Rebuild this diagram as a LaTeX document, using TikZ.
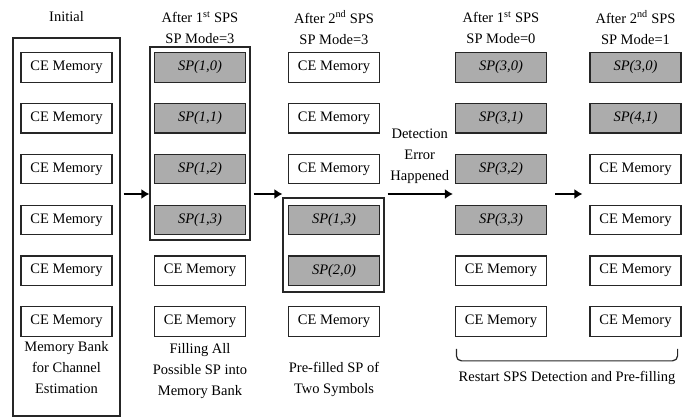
\documentclass[tikz,border=0pt]{standalone}
\usepackage{fontspec}
\setmainfont{Liberation Serif}
\usetikzlibrary{arrows.meta}

\begin{document}
\begin{tikzpicture}[x=1pt,y=-1pt,
    memnode/.style={rectangle, draw=black!85, line width=1.2pt, minimum width=91pt, minimum height=29.5pt, inner sep=0pt, font=\fontsize{14.5}{17}\selectfont},
    spnode/.style={memnode, fill=gray!65, font=\fontsize{14.5}{17}\selectfont\itshape},
    groupnode/.style={rectangle, draw=black!85, line width=1.2pt, inner sep=0pt},
    textnode/.style={align=center, font=\fontsize{14.5}{21}\selectfont},
    thickarrow/.style={line width=2.8pt, -{Latex[length=8pt,width=10pt]}},
]
    \useasboundingbox (0,0) rectangle (694,418);

    %Titles
    \node[textnode] (tinit) at (66.5,17) {Initial};
    \node[textnode] (tfill) at (200,27.5) {After 1\textsuperscript{st} SPS\\SP Mode=3};
    \node[textnode] (tpre) at (334,27.5) {After 2\textsuperscript{nd} SPS\\SP Mode=3};
    \node[textnode] (trsa) at (501,27.5) {After 1\textsuperscript{st} SPS\\SP Mode=0};
    \node[textnode] (trsb) at (635.5,27.5) {After 2\textsuperscript{nd} SPS\\SP Mode=1};

    %Memory columns
    \foreach \r in {1,...,6}
        \node[memnode] (init\r) at (66.5,{67.5+50.8*(\r-1)}) {CE Memory};

    \foreach \r/\k in {1/0,2/1,3/2,4/3}
        \node[spnode] (fillall\r) at (200,{67.5+50.8*(\r-1)}) {SP(1,\k)};
    \foreach \r in {5,6}
        \node[memnode] (fillall\r) at (200,{67.5+50.8*(\r-1)}) {CE Memory};

    \foreach \r in {1,2,3,6}
        \node[memnode] (prefill\r) at (334,{67.5+50.8*(\r-1)}) {CE Memory};
    \node[spnode] (prefill4) at (334,219.9) {SP(1,3)};
    \node[spnode] (prefill5) at (334,270.7) {SP(2,0)};

    \foreach \r/\k in {1/0,2/1,3/2,4/3}
        \node[spnode] (restartA\r) at (501,{67.5+50.8*(\r-1)}) {SP(3,\k)};
    \foreach \r in {5,6}
        \node[memnode] (restartA\r) at (501,{67.5+50.8*(\r-1)}) {CE Memory};

    \node[spnode] (restartB1) at (635.5,67.5) {SP(3,0)};
    \node[spnode] (restartB2) at (635.5,118.3) {SP(4,1)};
    \foreach \r in {3,...,6}
        \node[memnode] (restartB\r) at (635.5,{67.5+50.8*(\r-1)}) {CE Memory};

    %Group boxes
    \node[groupnode, minimum width=107pt, minimum height=378pt] (bank) at (66.5,227) {};
    \node[groupnode, minimum width=100pt, minimum height=193pt] (grpfill) at (200,143.5) {};
    \node[groupnode, minimum width=101pt, minimum height=94pt] (grppre) at (333.5,245) {};

    %Bottom texts
    \node[textnode] (lbank) at (66.5,368) {Memory Bank\\for Channel\\Estimation};
    \node[textnode] (lfill) at (200,371) {Filling All\\Possible SP into\\Memory Bank};
    \node[textnode] (lpre) at (334,379) {Pre-filled SP of\\Two Symbols};
    \node[textnode] (lrestart) at (567,378) {Restart SPS Detection and Pre-filling};

    %Arrows
    \coordinate (arrowrow) at (0,194);
    \draw[thickarrow, shorten <=3pt] (bank.east |- arrowrow) -- (grpfill.west |- arrowrow);
    \draw[thickarrow, shorten <=3pt] (grpfill.east |- arrowrow) -- (grppre.west |- arrowrow);
    \draw[thickarrow, shorten <=3pt, shorten >=2pt] (grppre.east |- arrowrow) -- node[textnode, above=6pt]{Detection\\Error\\Happened} (restartA4.west |- arrowrow);
    \draw[thickarrow, shorten <=8pt, shorten >=7pt] (restartA4.east |- arrowrow) -- (restartB4.west |- arrowrow);

    %Bracket
    \draw[line width=1.2pt, black!85, rounded corners=5pt]
        ([xshift=1.5pt,yshift=-12pt]restartA6.south west) -- ([xshift=1.5pt,yshift=-24pt]restartA6.south west)
        -- ([xshift=-4pt,yshift=-24pt]restartB6.south east) -- ([xshift=-4pt,yshift=-12pt]restartB6.south east);
\end{tikzpicture}
\end{document}
